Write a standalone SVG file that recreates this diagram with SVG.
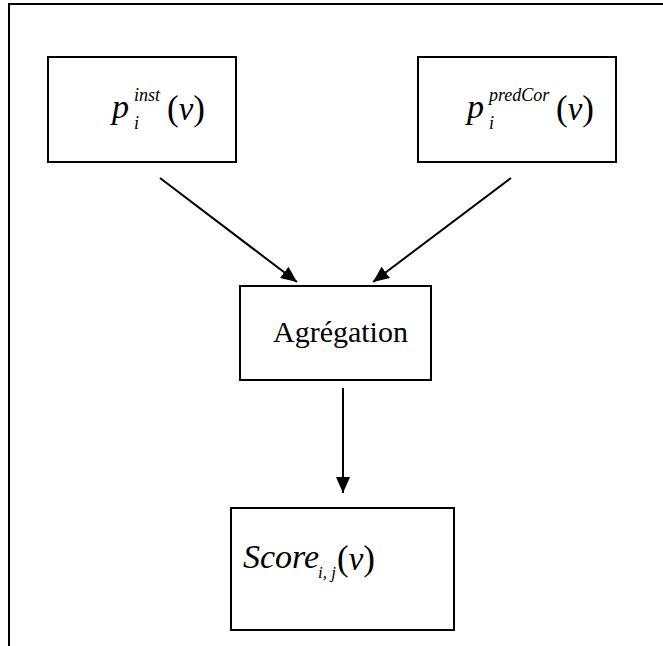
<svg xmlns="http://www.w3.org/2000/svg" width="663" height="646" viewBox="0 0 663 646">
<style>
.box{fill:#fff;stroke:#000;stroke-width:2}
.frame{fill:none;stroke:#000;stroke-width:2}
.conn{stroke:#000;stroke-width:2;fill:none}
.it{font-style:italic}
</style>
<defs>
<marker id="ah" viewBox="0 0 16 14" refX="16" refY="7" markerWidth="16" markerHeight="14" markerUnits="userSpaceOnUse" orient="auto">
<path d="M0,0 L16,7 L0,14 z" fill="#000"/>
</marker>
</defs>
<rect width="663" height="646" fill="#fff"/>
<path class="frame" d="M9,646 V4 H663"/>
<g id="connectors">
<line class="conn" x1="160" y1="178" x2="297" y2="282" marker-end="url(#ah)"/>
<line class="conn" x1="511" y1="178" x2="373" y2="282" marker-end="url(#ah)"/>
<line class="conn" x1="343" y1="388" x2="343" y2="493" marker-end="url(#ah)"/>
</g>
<g font-family="Liberation Serif, Tinos, Noto Serif, DejaVu Serif, Times New Roman, serif" fill="#000">
<g id="node-pinst">
<rect class="box" x="48" y="57" width="188" height="105"/>
<text class="it" x="112" y="118" font-size="34">p</text>
<text class="it" x="134" y="101" font-size="18">inst</text>
<text class="it" x="134" y="129" font-size="18">i</text>
<text x="167" y="120" font-size="35">(<tspan class="it" font-size="33">v</tspan>)</text>
</g>
<g id="node-ppredcor">
<rect class="box" x="418" y="57" width="198" height="105"/>
<text class="it" x="467" y="118" font-size="34">p</text>
<text class="it" x="489" y="101" font-size="18">predCor</text>
<text class="it" x="489" y="129" font-size="18">i</text>
<text x="556" y="120" font-size="35">(<tspan class="it" font-size="33">v</tspan>)</text>
</g>
<g id="node-agregation">
<rect class="box" x="240" y="286" width="191" height="94"/>
<text x="273" y="342" font-size="30">Agrégation</text>
</g>
<g id="node-score">
<rect class="box" x="231" y="508" width="223" height="122"/>
<text class="it" x="243" y="568" font-size="34">Score</text>
<text class="it" x="318" y="578" font-size="17">i, j</text>
<text x="337" y="570" font-size="35">(<tspan class="it" font-size="33">v</tspan>)</text>
</g>
</g>
</svg>
